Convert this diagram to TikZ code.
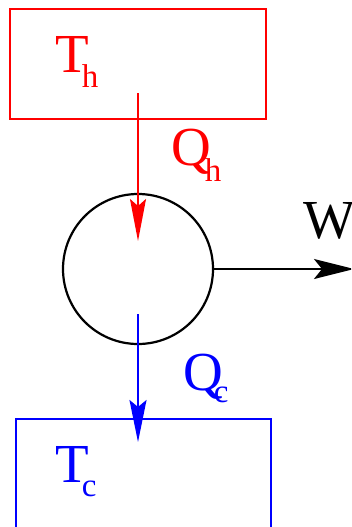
\documentclass[tikz,border=0pt]{standalone}
\usepackage{fontspec}
\setmainfont{Liberation Serif}
\usepackage{xcolor}
\usepackage{tikz}
\usetikzlibrary{arrows.meta}
\definecolor{Hot}{HTML}{FF0000}
\definecolor{Cold}{HTML}{0000FF}
\newcommand{\heatlabel}[4]{{\fontsize{55}{55}\selectfont #1}\kern#3\raisebox{#4}{\fontsize{33}{33}\selectfont #2}}

\begin{document}
\begin{tikzpicture}[x=1pt,y=-1pt]
\useasboundingbox (0,0) rectangle (351,527);
\clip (0,0) rectangle (351,527);
\node[draw=Hot,line width=2.2pt,minimum width=256pt,minimum height=110pt,inner sep=0pt] (hot) at (138,64) {};
\node[draw=black,circle,line width=2.2pt,minimum size=150pt,inner sep=0pt] (engine) at (138,269) {};
\node[draw=Cold,line width=2.2pt,minimum width=255pt,minimum height=200pt,inner sep=0pt] (cold) at (143.5,519) {};
\coordinate (qhstart) at (138,93);
\coordinate (qhend) at (138,241);
\coordinate (qcstart) at (138,314);
\coordinate (qcend) at (138,442);
\coordinate (wend) at (354,269);
\draw[-{Stealth[length=42pt,width=16pt,inset=7pt]},Hot,line width=2pt] (qhstart)--(qhend);
\draw[-{Stealth[length=42pt,width=17pt,inset=7pt]},Cold,line width=2pt] (qcstart)--(qcend);
\draw[-{Stealth[length=40pt,width=20pt,inset=8pt]},black,line width=2.2pt] (engine.east)--(wend);
\node[anchor=base west,inner sep=0pt,text=Hot] (thlabel) at (55,72) {\heatlabel{T}{h}{-7pt}{-15pt}};
\node[anchor=base west,inner sep=0pt,text=Hot] (qhlabel) at (171,165) {\heatlabel{Q}{h}{-6pt}{-16pt}};
\node[anchor=base west,inner sep=0pt] (wlabel) at (303,238) {\fontsize{55}{55}\selectfont W};
\node[anchor=base west,inner sep=0pt,text=Cold] (qclabel) at (183,390) {\heatlabel{Q}{c}{-9pt}{-12pt}};
\node[anchor=base west,inner sep=0pt,text=Cold] (tclabel) at (55,482) {\heatlabel{T}{c}{-7pt}{-14pt}};
\end{tikzpicture}
\end{document}
